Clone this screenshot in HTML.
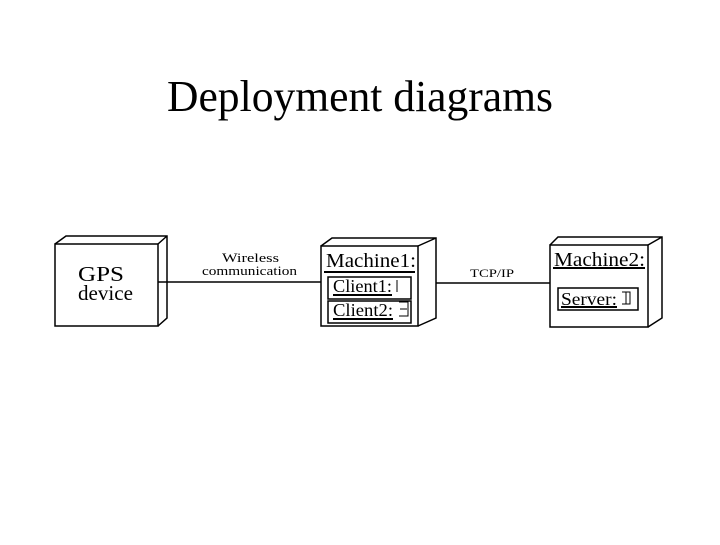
<!DOCTYPE html>
<html><head><style>
body{margin:0;background:#fff;}
svg text{font-family:"Liberation Serif",serif;fill:#000;}
</style></head><body>
<svg width="720" height="540" xmlns="http://www.w3.org/2000/svg">
<rect width="720" height="540" fill="#fff"/>
<text x="167" y="111" font-size="44" textLength="386" lengthAdjust="spacingAndGlyphs">Deployment diagrams</text>
<g fill="none" stroke="#000" stroke-width="1.5">
<rect x="55" y="244" width="103" height="82"/>
<path d="M55 244 L66 236 L167 236 L167 318 L158 326 M158 244 L167 236"/>
<rect x="321" y="246" width="97" height="80"/>
<path d="M321 246 L332 238 L436 238 L436 318 L418 326 M418 246 L436 238"/>
<rect x="550" y="245" width="98" height="82"/>
<path d="M550 245 L558 237 L662 237 L662 318 L648 327 M648 245 L662 237"/>
<line x1="158" y1="282" x2="321" y2="282"/>
<line x1="436" y1="283" x2="550" y2="283"/>
<rect x="328" y="277" width="83" height="22"/>
<rect x="328" y="301" width="83" height="22"/>
<rect x="558" y="288" width="80" height="22"/>
<path d="M397 280 v12 M399 302 h9 v14 h-9 M400 309 h7 M622 292 h8 v12 h-8 M626 292 v12" stroke-width="1"/>
</g>
<g stroke="#000" stroke-width="2">
<line x1="324" y1="272" x2="415" y2="272"/>
<line x1="333" y1="295" x2="392" y2="295"/>
<line x1="333" y1="319" x2="393" y2="319"/>
<line x1="553" y1="268" x2="645" y2="268"/>
<line x1="561" y1="307" x2="617" y2="307"/>
</g>
<text x="78" y="281" font-size="21" textLength="46" lengthAdjust="spacingAndGlyphs">GPS</text>
<text x="78" y="300" font-size="21" textLength="55" lengthAdjust="spacingAndGlyphs">device</text>
<text x="222" y="262" font-size="13" textLength="57" lengthAdjust="spacingAndGlyphs">Wireless</text>
<text x="202" y="275" font-size="13" textLength="95" lengthAdjust="spacingAndGlyphs">communication</text>
<text x="326" y="267" font-size="20" textLength="90" lengthAdjust="spacingAndGlyphs">Machine1:</text>
<text x="333" y="292" font-size="18" textLength="59" lengthAdjust="spacingAndGlyphs">Client1:</text>
<text x="333" y="316" font-size="18" textLength="60" lengthAdjust="spacingAndGlyphs">Client2:</text>
<text x="470" y="277" font-size="12" textLength="44" lengthAdjust="spacingAndGlyphs">TCP/IP</text>
<text x="554" y="266" font-size="20" textLength="91" lengthAdjust="spacingAndGlyphs">Machine2:</text>
<text x="561" y="305" font-size="18" textLength="56" lengthAdjust="spacingAndGlyphs">Server:</text>
</svg>
</body></html>
